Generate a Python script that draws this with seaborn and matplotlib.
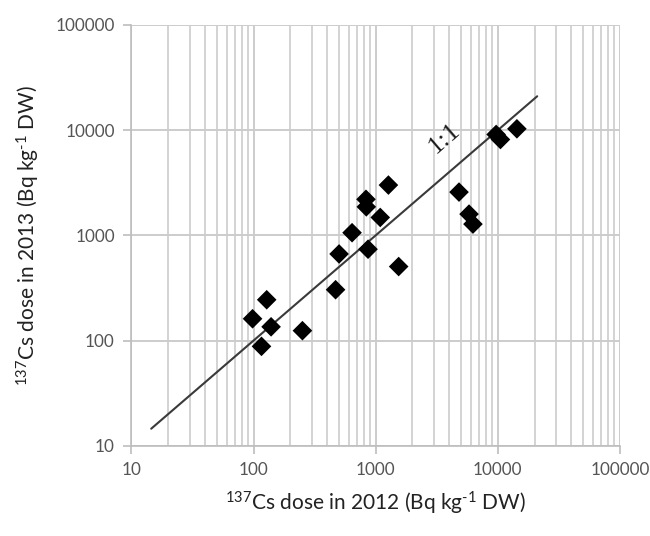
import matplotlib
matplotlib.use("Agg")
import matplotlib.pyplot as plt
import matplotlib.ticker as mticker
import seaborn as sns
import pandas as pd
import numpy as np

# Data
dose_2012 = [98, 128, 116, 139, 251, 469, 501, 640, 865, 837, 832, 1089, 1541,
             5808, 6254, 1270, 4808, 9680, 10500, 14320]
dose_2013 = [161, 244, 88, 135, 124, 304, 665, 1059, 738, 1866, 2200, 1479, 505,
             1592, 1279, 3006, 2577, 9100, 8150, 10300]
line_x = [14.5, 21000]
line_y = [14.5, 21000]
ticks = [10, 100, 1000, 10000, 100000]
tick_labels = ["10", "100", "1000", "10000", "100000"]

sns.set_style("white")
plt.rcParams['font.family'] = ['Lato', 'DejaVu Sans']
plt.rcParams['mathtext.fontset'] = 'custom'
plt.rcParams['mathtext.rm'] = 'Lato'
plt.rcParams['mathtext.it'] = 'Lato:italic'

fig = plt.figure(figsize=(6.5, 5.36), dpi=100)
ax = fig.add_axes([0.2023, 0.1685, 0.9538 - 0.2023, 0.9534 - 0.1685])

df = pd.DataFrame({"x": dose_2012, "y": dose_2013})
ldf = pd.DataFrame({"x": line_x, "y": line_y})

ax.set_xscale("log")
ax.set_yscale("log")
ax.set_xlim(10, 100000)
ax.set_ylim(10, 100000)

grid_c = "#cccccc"
ax.xaxis.set_major_locator(mticker.FixedLocator(ticks))
ax.yaxis.set_major_locator(mticker.FixedLocator(ticks))
ax.xaxis.set_minor_locator(mticker.LogLocator(base=10, subs=np.arange(2, 10)))
ax.yaxis.set_minor_locator(mticker.NullLocator())
ax.grid(True, which="major", axis="both", color=grid_c, lw=1.4)
ax.grid(True, which="minor", axis="x", color=grid_c, lw=1.2)
ax.set_axisbelow(True)

sns.lineplot(data=ldf, x="x", y="y", ax=ax, color="#3a3a3a", lw=1.5, zorder=3)
sns.scatterplot(data=df, x="x", y="y", ax=ax, marker="D", s=100, color="black",
                edgecolor="none", zorder=4)

ax.set_xticks(ticks)
ax.set_xticklabels(tick_labels)
ax.set_yticks(ticks)
ax.set_yticklabels(tick_labels)
ax.tick_params(axis="both", which="major", length=6, width=1.2, color="#bdbdbd",
               labelsize=12.3, labelcolor="#555555", direction="out", pad=6,
               bottom=True, left=True)
ax.tick_params(axis="x", which="minor", length=0)

for s in ["top", "right"]:
    ax.spines[s].set_visible(False)
for s in ["left", "bottom"]:
    ax.spines[s].set_color("#bdbdbd")
    ax.spines[s].set_linewidth(1.2)

ax.text(3650, 8300, "1:1", rotation=41, fontsize=19, family="Liberation Serif",
        ha="center", va="center", color="#1a1a1a")

ax.set_xlabel(r"$^{137}$Cs dose in 2012 (Bq kg$^{\text{-}1}$ DW)", fontsize=15,
              color="#222222", labelpad=8)
ax.set_ylabel(r"$^{137}$Cs dose in 2013 (Bq kg$^{\text{-}1}$ DW)", fontsize=15,
              color="#222222", labelpad=10)

fig.savefig("out.png", dpi=100, facecolor="white")
